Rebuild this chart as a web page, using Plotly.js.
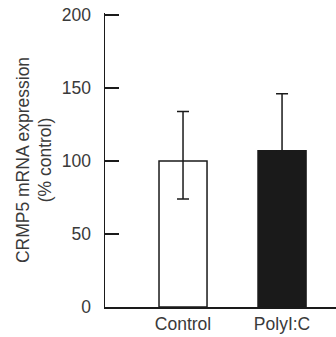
<!DOCTYPE html>
<html><head><meta charset="utf-8">
<script src="https://cdn.plot.ly/plotly-3.0.1.min.js"></script>
<style>html,body{margin:0;padding:0;background:#fff}#chart{width:336px;height:337px}</style>
</head><body><div id="chart"></div>
<script>
const categories = ["Control", "PolyI:C"];
const values = [100, 107];
const errorPlus = [34, 39];
const errorMinus = [26, 0];
const barColors = ["#ffffff", "#1a1a1a"];
const yTicks = [0, 50, 100, 150, 200];

const positions = categories.map((c, i) => i);

const trace = {
  type: "bar",
  x: positions,
  y: values,
  width: 0.485,
  marker: { color: barColors, line: { color: "#1a1a1a", width: 1.5 } },
  error_y: { type: "data", symmetric: false, array: errorPlus, arrayminus: errorMinus,
             color: "#1a1a1a", thickness: 1.5, width: 6 },
  hoverinfo: "none"
};

const layout = {
  width: 336, height: 337,
  margin: { l: 105, r: 0, t: 13, b: 30 },
  paper_bgcolor: "#fff", plot_bgcolor: "#fff",
  showlegend: false,
  font: { family: "Liberation Sans, Arial, sans-serif", size: 17.5, color: "#3a3a3a" },
  xaxis: {
    range: [-0.788, 1.545],
    tickmode: "array", tickvals: positions, ticktext: categories,
    ticks: "", showgrid: false, zeroline: false,
    showline: true, linecolor: "#1a1a1a", linewidth: 1.5,
    tickfont: { size: 17.5, color: "#3a3a3a" }
  },
  yaxis: {
    range: [0, 201.4],
    tickmode: "array", tickvals: yTicks,
    ticks: "inside", ticklen: 14, tickwidth: 1.5, tickcolor: "#1a1a1a",
    showgrid: false, zeroline: false,
    showline: true, linecolor: "#1a1a1a", linewidth: 1.5,
    ticklabelstandoff: 9,
    tickfont: { size: 17.5, color: "#3a3a3a" },
    title: { text: "CRMP5 mRNA expression<br>(% control)", font: { size: 17.5, color: "#3a3a3a" }, standoff: 5 }
  }
};

Plotly.newPlot("chart", [trace], layout, { staticPlot: true, displayModeBar: false });
</script>
</body></html>
